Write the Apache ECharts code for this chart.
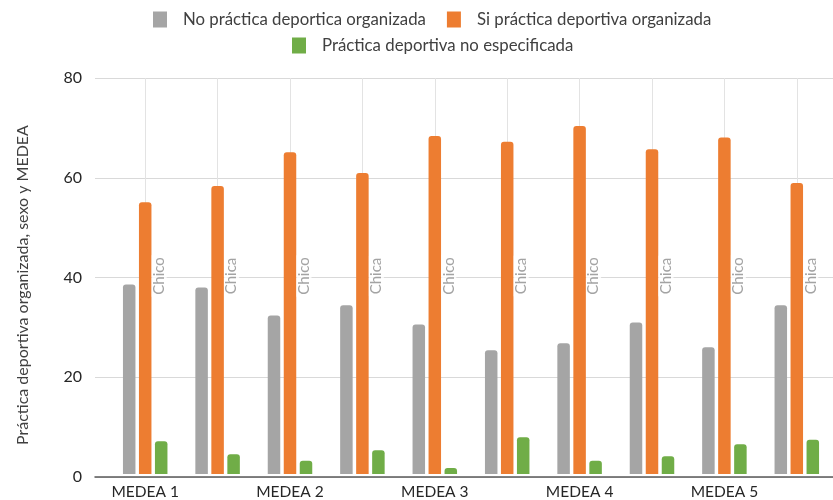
<!DOCTYPE html>
<html><head><meta charset="utf-8">
<script src="https://cdn.jsdelivr.net/npm/echarts@6/dist/echarts.min.js"></script>
<style>html,body{margin:0;padding:0;background:#fff}#c{width:833px;height:500px}</style>
</head><body><div id="c"></div>
<script>
const categories = ['MEDEA 1 Chico','MEDEA 1 Chica','MEDEA 2 Chico','MEDEA 2 Chica','MEDEA 3 Chico','MEDEA 3 Chica','MEDEA 4 Chico','MEDEA 4 Chica','MEDEA 5 Chico','MEDEA 5 Chica'];
const medeaLabels = ['MEDEA 1','MEDEA 2','MEDEA 3','MEDEA 4','MEDEA 5'];
const sexLabels = ['Chico','Chica','Chico','Chica','Chico','Chica','Chico','Chica','Chico','Chica'];
const noPractica = [38.3, 37.7, 32.0, 34.1, 30.2, 25.0, 26.4, 30.6, 25.6, 34.1];
const siPractica = [54.9, 58.2, 65.0, 60.8, 68.3, 67.1, 70.3, 65.6, 68.0, 58.8];
const noEspecificada = [6.6, 4.0, 2.7, 4.8, 1.2, 7.4, 2.7, 3.6, 6.0, 6.9];
const yTicks = [0, 20, 40, 60, 80];
const seriesNames = ['No práctica deportica organizada','Si práctica deportiva organizada','Práctica deportiva no especificada'];
const yTitle = 'Práctica deportiva organizada, sexo y MEDEA';

const FONT = 'Lato';
const chart = echarts.init(document.getElementById('c'), null, {renderer:'canvas'});
const barCommon = {type:'bar', xAxisIndex:0, yAxisIndex:0, barWidth:12.5, barGap:'28%', z:2};
const legendText = {fontFamily:FONT, fontSize:16.8, color:'#404040', padding:[0,0,0,11]};
chart.setOption({
  animation:false,
  textStyle:{fontFamily:FONT},
  legend:[
    {top:6, left:148, itemWidth:14, itemHeight:16, itemGap:21, data:[seriesNames[0],seriesNames[1]],
     textStyle:legendText, icon:'rect'},
    {top:32, left:287, itemWidth:14, itemHeight:16, itemGap:21, data:[seriesNames[2]],
     textStyle:legendText, icon:'rect'}
  ],
  grid:[
    {left:109, right:0, top:78, bottom:23},
    {left:95, right:0, top:78, bottom:23}
  ],
  xAxis:[
    {type:'category', gridIndex:0, data:categories, axisLine:{show:false}, axisTick:{show:false},
     axisLabel:{interval:1, margin:10, fontFamily:FONT, fontSize:15.5, color:'#262626',
       formatter:(v,i)=>medeaLabels[Math.floor(i/2)]}},
    {type:'value', gridIndex:1, min:0, max:1, axisLabel:{show:false}, axisTick:{show:false}, splitLine:{show:false},
     axisLine:{show:true, lineStyle:{color:'#595959', width:1.5}}}
  ],
  yAxis:[
    {type:'value', gridIndex:0, min:yTicks[0], max:yTicks[yTicks.length-1], interval:20, show:false, splitLine:{show:false}},
    {type:'value', gridIndex:1, min:yTicks[0], max:yTicks[yTicks.length-1], interval:20,
     axisLine:{show:false}, axisTick:{show:false},
     axisLabel:{margin:13, fontFamily:FONT, fontSize:16, color:'#262626'},
     splitLine:{lineStyle:{color:'#d9d9d9', width:1.2}},
     name:yTitle, nameLocation:'middle', nameGap:64, nameRotate:90,
     nameTextStyle:{fontFamily:FONT, fontSize:16, color:'#404040', padding:[0,15,0,0]}}
  ],
  series:[
    Object.assign({}, barCommon, {name:seriesNames[0], data:noPractica, itemStyle:{color:'#A5A5A5', borderRadius:[3,3,0,0]}}),
    Object.assign({}, barCommon, {name:seriesNames[1], data:siPractica, itemStyle:{color:'#ED7D31', borderRadius:[3,3,0,0]}}),
    Object.assign({}, barCommon, {name:seriesNames[2], data:noEspecificada, itemStyle:{color:'#70AD47', borderRadius:[3,3,0,0]}}),
    {type:'scatter', xAxisIndex:0, yAxisIndex:0, z:3, symbolSize:0, silent:true,
     data:categories.map((c,i)=>[i,40]),
     label:{show:true, position:'inside', rotate:90, offset:[0,14], formatter:p=>sexLabels[p.dataIndex],
       fontFamily:FONT, fontSize:15, color:'#8c8c8c', backgroundColor:'#ffffff', padding:[0,2,0,2]},
     markLine:{silent:true, symbol:'none', z:1, label:{show:false},
       lineStyle:{color:'#e3e3e3', width:1, type:'solid'},
       data:categories.map((c,i)=>({xAxis:i}))}}
  ]
});
</script></body></html>
